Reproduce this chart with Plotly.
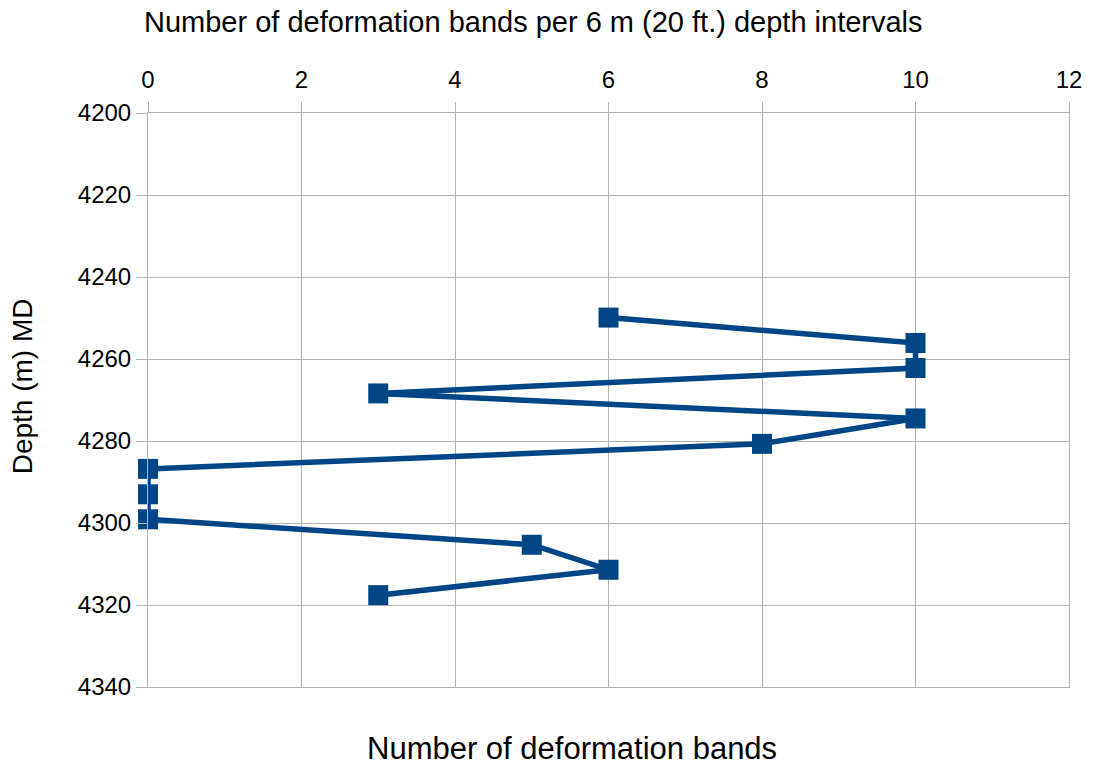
import plotly.graph_objects as go

# Deformation band counts per 6 m (20 ft) depth interval
depth_m = [4249.9, 4256.1, 4262.2, 4268.4, 4274.5, 4280.7,
           4286.8, 4293.0, 4299.1, 4305.3, 4311.4, 4317.6]
band_count = [6, 10, 10, 3, 10, 8, 0, 0, 0, 5, 6, 3]

x_ticks = [0, 2, 4, 6, 8, 10, 12]
y_ticks = [4200, 4220, 4240, 4260, 4280, 4300, 4320, 4340]

BLUE = "#004586"
GRID = "#b3b3b3"
FONT = "Liberation Sans, Arial, sans-serif"

fig = go.Figure(
    go.Scatter(
        x=band_count,
        y=depth_m,
        mode="lines+markers",
        line=dict(color=BLUE, width=5.5),
        marker=dict(symbol="square", size=20, color=BLUE),
        showlegend=False,
        cliponaxis=False,
    )
)

fig.update_layout(
    width=1097,
    height=765,
    margin=dict(l=148, r=28, t=113, b=78),
    paper_bgcolor="white",
    plot_bgcolor="white",
    font=dict(family=FONT, color="black", size=24),
    xaxis=dict(
        side="top",
        range=[0, 12],
        tickvals=x_ticks,
        ticks="outside",
        ticklen=10,
        tickcolor=GRID,
        showgrid=True,
        gridcolor=GRID,
        gridwidth=1,
        showline=True,
        linecolor=GRID,
        mirror=True,
        zeroline=False,
        tickfont=dict(size=24),
        ticklabelstandoff=4,
    ),
    yaxis=dict(
        range=[4340, 4200],
        tickvals=y_ticks,
        ticks="outside",
        ticklen=11,
        tickcolor=GRID,
        showgrid=True,
        gridcolor=GRID,
        gridwidth=1,
        showline=True,
        linecolor=GRID,
        mirror=True,
        zeroline=False,
        tickfont=dict(size=24),
        ticklabelstandoff=0,
    ),
    annotations=[
        # top axis title
        dict(
            text="Number of deformation bands per 6 m (20 ft.) depth intervals",
            xref="paper", yref="paper",
            x=0.4185, y=1.1585,
            xanchor="center", yanchor="middle",
            showarrow=False,
            font=dict(size=29, family=FONT),
        ),
        # depth axis title
        dict(
            text="Depth (m) MD",
            xref="paper", yref="paper",
            x=-0.1354, y=0.5244,
            xanchor="center", yanchor="middle",
            textangle=-90,
            showarrow=False,
            font=dict(size=28, family=FONT),
        ),
        # bottom caption
        dict(
            text="Number of deformation bands",
            xref="paper", yref="paper",
            x=0.4609, y=-0.1068,
            xanchor="center", yanchor="middle",
            showarrow=False,
            font=dict(size=31, family=FONT),
        ),
    ],
)

fig.write_html("out.html")
